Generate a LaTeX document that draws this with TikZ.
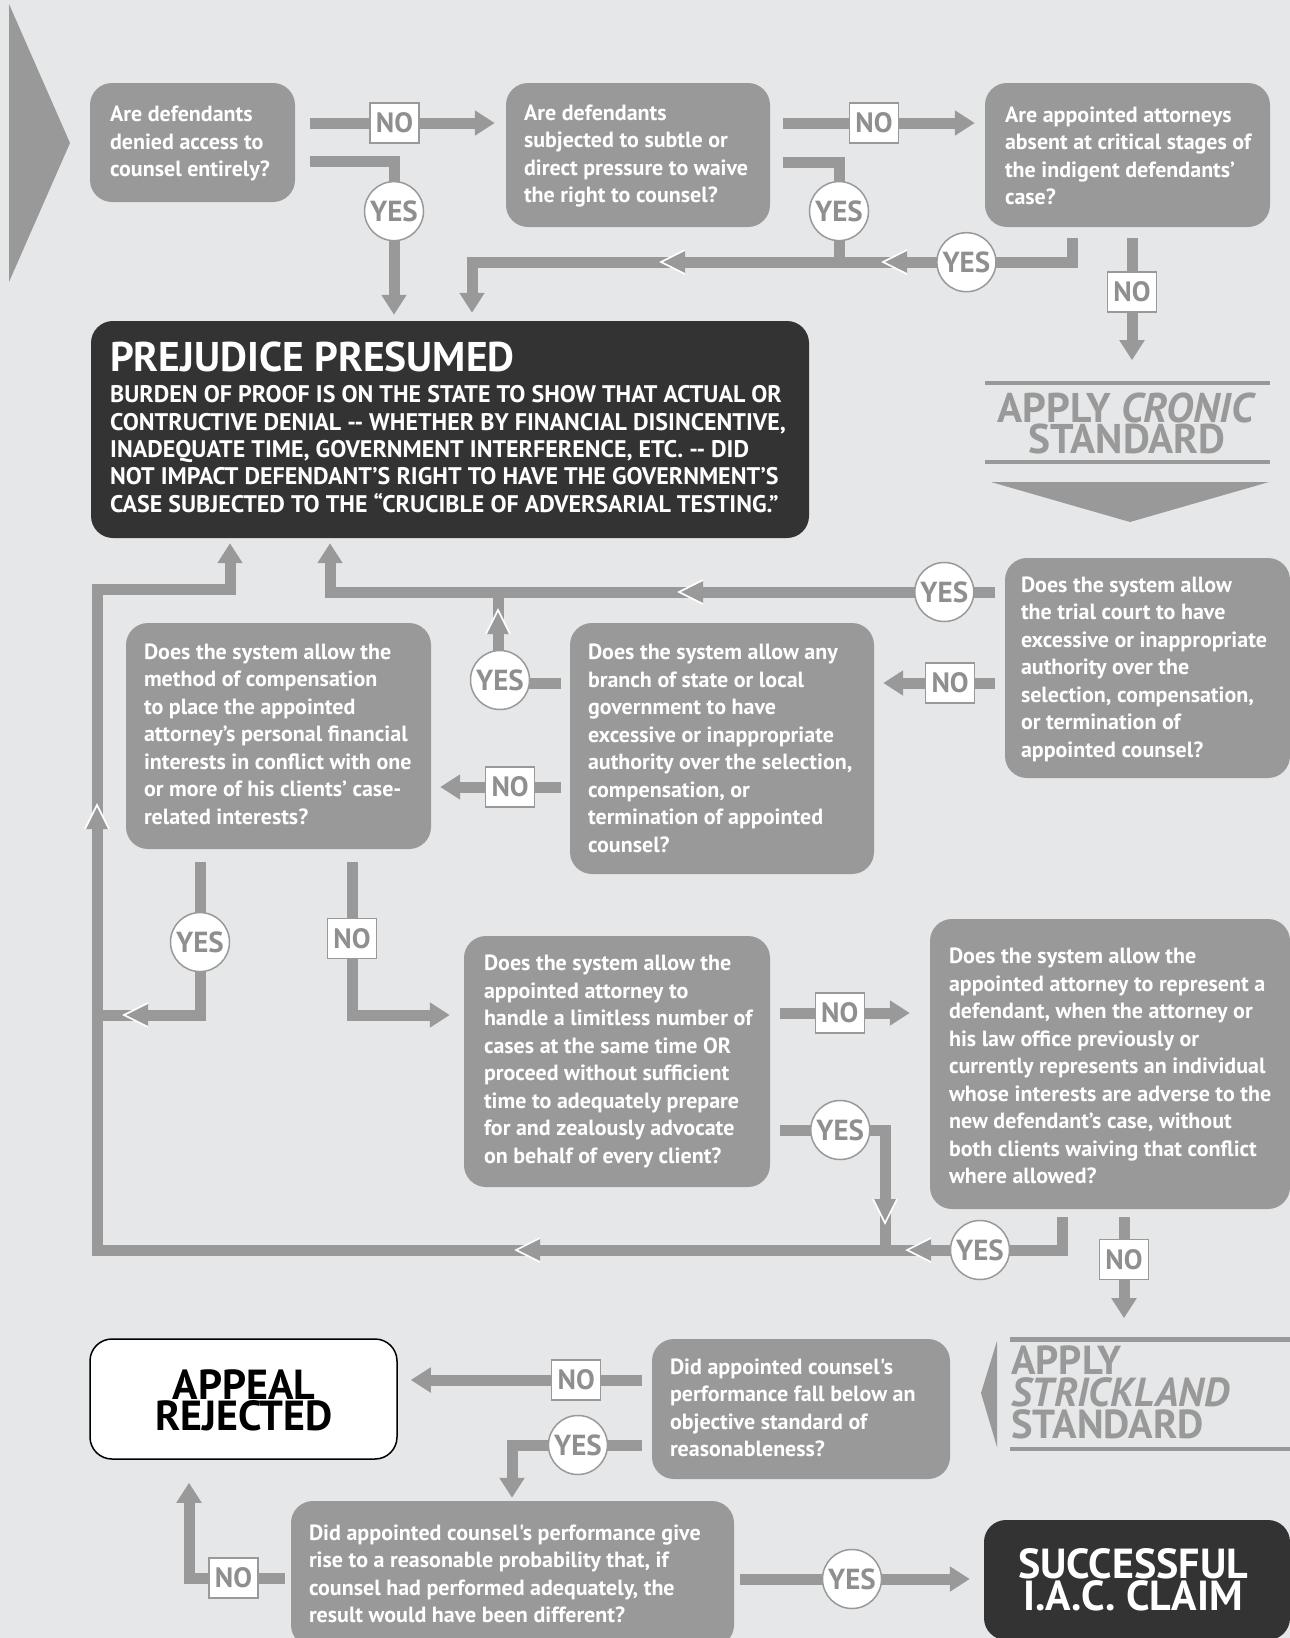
\documentclass[tikz,border=0pt]{standalone}
\usepackage{fontspec}
\setmainfont{PT Sans}[Ligatures=TeXOff]
\usetikzlibrary{arrows.meta,calc}
\definecolor{bgc}{HTML}{E6E7E8}
\definecolor{bxc}{HTML}{999999}
\definecolor{dkc}{HTML}{333333}
\definecolor{lblc}{HTML}{8F8F8F}
\tikzset{
  qbox/.style={fill=bxc, rounded corners=22pt, inner sep=0pt},
  qtext/.style={anchor=west, inner sep=0pt, text=white, align=left, font=\bfseries\fontsize{22}{27.5}\selectfont},
  bar/.style={draw=bxc, line width=11pt},
  barr/.style={bar, -{Triangle[width=24pt,length=20pt]}},
  nolbl/.style={draw=bxc, line width=1.5pt, fill=white, minimum width=49pt, minimum height=40pt, inner sep=0pt, text=lblc, font=\bfseries\fontsize{28}{28}\selectfont},
  yeslbl/.style={circle, draw=bxc, line width=1.5pt, fill=white, minimum size=59pt, inner sep=0pt, text=lblc, font=\bfseries\fontsize{29}{29}\selectfont},
  chevL/.pic={\fill[bxc] (0,0)--(24,-12)--(24,12)--cycle; \draw[white,line width=1.6pt] (24,-12)--(0,0)--(24,12);},
  chevU/.pic={\fill[bxc] (0,0)--(-12,24)--(12,24)--cycle; \draw[white,line width=1.6pt] (-12,24)--(0,0)--(12,24);},
  chevD/.pic={\fill[bxc] (0,0)--(-12,-24)--(12,-24)--cycle; \draw[white,line width=1.6pt] (-12,-24)--(0,0)--(12,-24);},
  bigtxt/.style={inner sep=0pt, text=bxc, font=\bfseries\fontsize{41.5}{41.5}\selectfont},
  endtxt/.style={inner sep=0pt, anchor=base, font=\bfseries\fontsize{42}{42}\selectfont},
}
\begin{document}
\begin{tikzpicture}[x=1pt,y=-1pt]
\fill[bgc] (0,0) rectangle (1290,1638);
\useasboundingbox (0,0) rectangle (1290,1638);
\begin{scope}
\clip (0,0) rectangle (1290,1638);
% big entry triangle
\fill[bxc] (9,4) -- (70,143) -- (9,282) -- cycle;

% question boxes
\node[qbox, minimum width=205pt, minimum height=119pt] (A) at (192.5,142.5) {};
\node[qtext] (At) at ($(A.west)+(20,1)$) {Are defendants\\denied access to\\counsel entirely?};
\node[qbox, minimum width=264pt, minimum height=144pt] (B) at (638,155) {};
\node[qtext] (Bt) at ($(B.west)+(18,1)$) {Are defendants\\subjected to subtle or\\direct pressure to waive\\the right to counsel?};
\node[qbox, minimum width=285pt, minimum height=144pt] (C) at (1127.5,155) {};
\node[qtext] (Ct) at ($(C.west)+(20,1)$) {Are appointed attorneys\\absent at critical stages of\\the indigent defendants’\\case?};

% prejudice presumed
\node[qbox, fill=dkc, minimum width=718pt, minimum height=217pt] (PP) at (450,429.5) {};
\node[anchor=base west, inner sep=0pt, text=white, font=\bfseries\fontsize{41.5}{41.5}\selectfont] (PPt) at (110,371) {PREJUDICE PRESUMED};
\node[anchor=west, inner sep=0pt, text=white, align=left, font=\bfseries\fontsize{24}{27.3}\selectfont] (PPb) at (110,449)
 {BURDEN OF PROOF IS ON THE STATE TO SHOW THAT ACTUAL OR\\
  CONTRUCTIVE DENIAL -- WHETHER BY FINANCIAL DISINCENTIVE,\\
  INADEQUATE TIME, GOVERNMENT INTERFERENCE, ETC. -- DID\\
  NOT IMPACT DEFENDANT’S RIGHT TO HAVE THE GOVERNMENT’S\\
  CASE SUBJECTED TO THE “CRUCIBLE OF ADVERSARIAL TESTING.”};

% cronic
\draw[bxc, line width=4pt] (985,382.5) -- (1270,382.5);
\draw[bxc, line width=4pt] (985,462) -- (1270,462);
\node[bigtxt, anchor=base] (CR1) at (1127,422) {APPLY \textit{CRONIC}};
\node[bigtxt, anchor=base] (CR2) at (1127,453) {STANDARD};
\fill[bxc] (991,482) -- (1269,482) -- (1130,522) -- cycle;

\node[qbox, minimum width=285pt, minimum height=220pt] (E) at (1147.5,668) {};
\node[qtext] (Et) at ($(E.west)+(16,1)$) {Does the system allow\\the trial court to have\\excessive or inappropriate\\authority over the\\selection, compensation,\\or termination of\\appointed counsel?};
\node[qbox, minimum width=304pt, minimum height=251pt] (D2) at (722,748.5) {};
\node[qtext] (D2t) at ($(D2.west)+(18,0)$) {Does the system allow any\\branch of state or local\\government to have\\excessive or inappropriate\\authority over the selection,\\compensation, or\\termination of appointed\\counsel?};
\node[qbox, minimum width=305pt, minimum height=226pt] (D1) at (278.5,736) {};
\node[qtext] (D1t) at ($(D1.west)+(18,-2)$) {Does the system allow the\\method of compensation\\to place the appointed\\attorney’s personal financial\\interests in conflict with one\\or more of his clients’ case-\\related interests?};
\node[qbox, minimum width=306pt, minimum height=251pt] (F) at (617,1061.5) {};
\node[qtext] (Ft) at ($(F.west)+(20,0)$) {Does the system allow the\\appointed attorney to\\handle a limitless number of\\cases at the same time OR\\proceed without sufficient\\time to adequately prepare\\for and zealously advocate\\on behalf of every client?};
\node[qbox, minimum width=360pt, minimum height=290pt] (G) at (1110,1064) {};
\node[qtext] (Gt) at ($(G.west)+(19,2)$) {Does the system allow the\\appointed attorney to represent a\\defendant, when the attorney or\\his law office previously or\\currently represents an individual\\whose interests are adverse to the\\new defendant’s case, without\\both clients waiving that conflict\\where allowed?};

% strickland
\draw[bxc, line width=4.5pt] (1010,1339.5) -- (1290,1339.5);
\draw[bxc, line width=4.5pt] (1010,1449) -- (1290,1449);
\fill[bxc] (997,1341) -- (997,1447) -- (981,1393) -- cycle;
\node[bigtxt, anchor=base west, font=\bfseries\fontsize{40.5}{40.5}\selectfont] (ST1) at (1011,1374) {APPLY};
\node[bigtxt, anchor=base west, font=\bfseries\fontsize{40.5}{40.5}\selectfont] (ST2) at (1011,1406) {\textit{STRICKLAND}};
\node[bigtxt, anchor=base west, font=\bfseries\fontsize{40.5}{40.5}\selectfont] (ST3) at (1011,1438) {STANDARD};

\node[qbox, minimum width=298pt, minimum height=140pt] (H) at (801,1409) {};
\node[qtext] (Ht) at ($(H.west)+(18,-1)$) {Did appointed counsel's\\performance fall below an\\objective standard of\\reasonableness?};
\node[qbox, minimum width=443pt, minimum height=146pt] (I) at (512.5,1574) {};
\node[qtext] (It) at ($(I.west)+(18,0)$) {Did appointed counsel's performance give\\rise to a reasonable probability that, if\\counsel had performed adequately, the\\result would have been different?};
\node[qbox, fill=white, draw=black, line width=1.5pt, minimum width=307pt, minimum height=120pt] (AR) at (243.5,1399) {};
\node[endtxt, text=black] (AR1) at (244,1399) {APPEAL};
\node[endtxt, text=black] (AR2) at (244,1430) {REJECTED};
\node[qbox, fill=dkc, minimum width=306pt, minimum height=120pt] (SC) at (1137,1580) {};
\node[endtxt, text=white] (SC1) at (1133,1578) {SUCCESSFUL};
\node[endtxt, text=white] (SC2) at (1133,1610) {I.A.C. CLAIM};

% connectors
\draw[barr] ($(A.east)+(15,-19.5)$) -- ($(B.west)+(-11,-32)$) node[nolbl, pos=0.457] (n1) {NO};
\draw[barr] ($(A.east)+(15,18.5)$) -| ($(PP.north)+(-56,-6)$) node[yeslbl, pos=0.663] (y1) {YES};
\draw[barr] ($(B.east)+(13,-32)$) -- ($(C.west)+(-10,-32)$) node[nolbl, pos=0.474] (n2) {NO};
\draw[bar] ($(B.east)+(13,7)$) -| ($(B.south)+(201,35)$) node[yeslbl, pos=0.745] (y2) {YES};
\draw[barr] ($(C.south)+(-55.5,11)$) -- ($(C.south)+(-55.5,35)$) -| ($(PP.north)+(22,-8)$) node[yeslbl, pos=0.088] (y3) {YES};
\draw[barr] ($(C.south)+(4.5,11)$) -- ($(C.south)+(4.5,133)$) node[nolbl, pos=0.44] (n3) {NO};

\draw[barr] ($(E.west)+(-10,-76)$) -| ($(PP.south)+(-120,5)$) node[yeslbl, pos=0.038] (y4) {YES};
\draw[barr] ($(G.south)+(-48,8)$) |- ($(G.south)+(-1013,41)$) |- ($(PP.south)+(-220,51)$) -- ($(PP.south)+(-220,5)$);
\draw[bar] ($(D2.west)+(-9,-65.5)$) -| ($(PP.south)+(48,54)$);
\draw[barr] ($(D2.west)+(-9,38.5)$) -- ($(D1.east)+(9,51)$) node[nolbl, pos=0.42] (n5) {NO};
\draw[barr] ($(E.west)+(-10,15)$) -- ($(D2.east)+(9,-65.5)$) node[nolbl, pos=0.40] (n4) {NO};
\draw[bar] ($(D1.south)+(-78.5,13)$) |- ($(D1.south)+(-181.5,166)$) node[yeslbl, pos=0.261] (y6) {YES};
\draw[barr] ($(D1.south)+(73.5,13)$) |- ($(F.west)+(-14,-46.5)$) node[nolbl, pos=0.25] (n6) {NO};
\draw[barr] ($(F.east)+(10,-48.5)$) -- ($(G.west)+(-20,-51)$) node[nolbl, pos=0.46] (n7) {NO};
\draw[bar] ($(F.east)+(10,68.5)$) -| ($(F.east)+(115,188.5)$) node[yeslbl, pos=0.286] (y7) {YES};
\draw[barr] ($(G.south)+(14,8)$) -- ($(G.south)+(14,109)$) node[nolbl, pos=0.42] (n8) {NO};
\draw[barr] ($(H.west)+(-10,-29)$) -- ($(AR.east)+(13,-19)$) node[nolbl, pos=0.284] (n9) {NO};
\draw[barr] ($(H.west)+(-10,36)$) -| ($(I.north)+(-0.5,-3)$) node[yeslbl, pos=0.246] (y9) {YES};
\draw[barr] ($(I.west)+(-6,4)$) -| ($(AR.south)+(-54.5,23)$) node[nolbl, pos=0.268] (n10) {NO};
\draw[barr] ($(I.east)+(6,5)$) -- ($(SC.west)+(-14,-1)$) node[yeslbl, pos=0.487] (y10) {YES};

% direction chevrons
\pic at (883,262) {chevL};
\pic at (661,262) {chevL};
\pic at (679,592) {chevL};
\pic at (498,610) {chevU};
\pic at (97,805) {chevU};
\pic at (124,1015) {chevL};
\pic at (516,1250) {chevL};
\pic at (907,1250) {chevL};
\pic at (885,1223) {chevD};

% labels drawn on top of later bars
\node[yeslbl] (y5) at (980,1250) {YES};
\node[yeslbl] (y8) at (500,680) {YES};
\end{scope}
\end{tikzpicture}
\end{document}
